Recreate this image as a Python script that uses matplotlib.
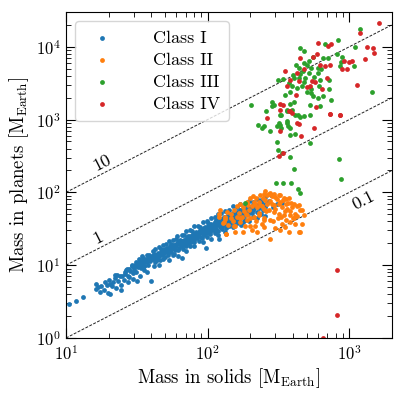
import matplotlib
matplotlib.use("Agg")
import matplotlib.pyplot as plt
import numpy as np

# ---------------- data ----------------
class1_x = [10.5, 11.8, 13.2, 16.2, 16.4, 16.8, 17.3, 17.8, 18.4, 18.9, 19.5, 19.9, 20.4, 21.0, 21.6,
            22.3, 22.9, 23.4, 24.4, 24.8, 25.5, 25.9, 26.5, 27.2, 27.8, 28.4, 29.0, 29.5, 30.2, 30.8,
            31.3, 31.7, 32.2, 32.8, 33.4, 33.9, 34.5, 35.0, 35.6, 36.2, 36.8, 37.4, 38.0, 38.6, 39.3,
            39.7, 40.3, 41.0, 41.7, 42.4, 43.1, 43.8, 44.5, 45.2, 46.0, 46.7, 47.5, 48.3, 49.1, 50.0,
            50.8, 51.7, 52.6, 53.5, 54.4, 55.3, 56.3, 57.3, 58.2, 59.2, 60.2, 61.3, 62.3, 63.4, 64.5,
            65.6, 66.7, 66.0, 67.9, 69.0, 70.2, 71.4, 72.6, 73.9, 75.1, 76.4, 77.7, 79.1, 80.4, 81.8,
            83.2, 84.7, 86.1, 87.6, 89.1, 90.7, 92.2, 93.8, 95.4, 97.1, 98.0, 98.7, 100.4, 102.2, 104.0,
            105.8, 107.6, 109.5, 111.4, 113.3, 115.3, 117.3, 119.3, 120.0, 121.4, 123.5, 125.6, 127.8, 130.0,
            132.3, 134.6, 136.9, 139.3, 141.7, 144.2, 146.7, 149.2, 151.8, 154.4, 157.1, 159.8, 162.6, 165.4,
            168.3, 171.2, 174.2, 177.2, 180.3, 183.4, 186.6, 189.9, 193.2, 196.5, 200.0, 205.0, 210.0, 216.0,
            222.0, 229.0, 236.0, 244.0, 252.0, 262.0, 281.0, 335.0,
            26.0, 28.0, 30.0, 32.0, 34.0, 36.0, 38.0, 40.0, 42.0, 44.0, 46.0, 48.0, 50.0, 52.0, 54.0,
            56.0, 58.0, 60.0, 62.0, 64.0, 66.0, 68.0, 70.0, 72.0, 74.0, 76.0, 78.0, 80.0, 82.0, 84.0,
            86.0, 88.0, 90.0, 92.0, 94.0, 96.0, 98.0, 100.0, 103.0, 106.0, 109.0, 112.0, 115.0, 118.0,
            121.0, 124.0, 127.0, 130.0, 133.0, 136.0, 140.0, 144.0, 148.0, 152.0, 156.0, 160.0, 165.0,
            170.0, 175.0, 180.0, 186.0, 192.0, 198.0, 205.0, 212.0, 220.0, 230.0, 240.0, 255.0, 270.0,
            290.0, 310.0,
            20, 22, 24, 27, 29, 33, 35, 37, 41, 45, 48, 53, 57, 61, 66, 70, 75, 80, 86, 92, 99, 105,
            112, 118, 125, 133, 141, 150, 160, 170, 182, 195, 208, 222, 238, 255,
            20.5, 22.5, 24.5, 27.5, 29.5, 33.5, 35.5, 37.5, 41.5, 45.5, 48.5, 53.5, 57.5, 61.5, 66.5,
            70.5, 75.5, 80.5, 86.5, 92.5, 99.5, 105.5, 112.5, 118.5, 125.5, 133.5, 141.5, 150.5, 160.5,
            170.5, 182.5, 195.5, 208.5, 222.5, 238.5, 255.5,
            31, 34.5, 38.5, 42.5, 47, 51, 55.5, 59.5, 64, 68.5, 73, 78, 83, 88.5, 94.5, 101, 108, 115,
            122.5, 131, 140, 150, 161, 173,
            32, 35.5, 39.7, 43.8, 48.4, 52.5, 57, 61.3, 66, 70.5, 75.2, 80.3, 85.5, 91, 97.3, 104, 111,
            118.5, 126, 135, 144, 154.5, 166, 178]
class1_y = [2.9, 3.2, 3.6, 5.5, 4.7, 5.0, 4.3, 5.1, 4.6, 5.9, 5.3, 4.1, 5.6, 5.1, 5.8,
            6.6, 7.4, 6.1, 5.4, 7.0, 6.3, 7.6, 8.7, 7.2, 6.9, 8.3, 9.8, 7.8, 9.1, 10.2,
            8.1, 6.0, 9.5, 10.8, 11.0, 9.2, 10.4, 11.6, 9.6, 10.9, 12.2, 11.1, 10.1, 12.5, 11.4,
            6.0, 13.2, 12.1, 14.4, 11.2, 13.6, 12.6, 14.8, 13.3, 11.9, 15.2, 13.9, 16.4, 14.5, 12.8,
            15.9, 17.3, 14.6, 16.5, 18.2, 15.4, 17.1, 13.8, 19.2, 16.2, 18.3, 20.1, 17.0, 19.3, 21.6,
            18.1, 20.4, 12.5, 22.3, 18.9, 21.4, 23.6, 20.0, 22.4, 25.1, 21.1, 23.6, 26.4, 22.0, 24.9,
            27.8, 23.3, 26.1, 29.2, 24.6, 27.5, 30.8, 25.9, 28.9, 32.5, 17.4, 27.4, 30.6, 34.1, 28.6,
            32.0, 36.0, 30.2, 33.8, 37.9, 31.9, 35.7, 40.0, 23.0, 33.5, 37.4, 42.1, 35.2, 39.3,
            44.2, 36.8, 41.1, 46.3, 38.5, 43.0, 48.4, 40.1, 45.0, 50.6, 42.0, 47.0, 52.9, 44.0,
            49.1, 55.0, 46.0, 51.3, 57.5, 48.2, 53.5, 60.0, 50.3, 55.8, 62.5, 52.0, 58.0, 65.0,
            54.0, 60.5, 68.0, 56.5, 63.0, 71.0, 92.0, 72.0,
            8.0, 9.0, 8.6, 10.0, 10.0, 11.5, 11.8, 12.0, 13.0, 14.0, 14.2, 15.0, 16.8, 16.0, 17.0,
            18.8, 17.5, 19.5, 21.0, 19.8, 21.2, 20.0, 23.0, 22.0, 24.0, 23.5, 25.0, 26.5, 25.5, 28.0,
            27.0, 30.0, 29.0, 31.5, 29.5, 33.0, 31.0, 35.0, 32.0, 37.0, 34.0, 39.0, 36.0, 41.0,
            38.0, 43.0, 40.0, 45.0, 42.0, 47.5, 44.0, 49.0, 46.0, 52.0, 48.0, 54.0, 50.0,
            57.0, 53.0, 59.0, 56.0, 62.0, 58.0, 65.0, 61.0, 68.0, 64.0, 72.0, 67.0, 75.0,
            62.0, 70.0,
            6.3, 7.4, 7.0, 9.0, 10.2, 12.0, 12.6, 14.0, 15.6, 18.0, 19.0, 21.5, 22.0, 25.5, 26.0,
            29.5, 30.0, 34.0, 35.0, 39.5, 40.0, 45.0, 45.5, 50.0, 52.0, 55.0, 58.0, 64.0, 62.0,
            70.0, 68.0, 76.0, 74.0, 82.0, 78.0, 86.0,
            4.0, 4.9, 4.5, 5.9, 6.4, 7.2, 8.6, 8.0, 9.8, 10.2, 12.0, 11.8, 14.2, 13.5, 16.5, 15.8,
            18.5, 18.2, 21.5, 20.5, 24.5, 23.0, 27.5, 26.0, 31.0, 29.0, 34.0, 33.0, 37.5, 36.0,
            42.0, 40.0, 46.0, 44.0, 50.0, 48.0,
            11.0, 13.4, 13.6, 16.6, 16.5, 19.8, 19.4, 22.9, 22.0, 26.2, 25.0, 29.6, 28.3, 33.3, 32.0,
            37.7, 35.8, 41.6, 39.3, 45.8, 43.5, 50.7, 48.2, 56.5,
            9.8, 9.6, 12.0, 11.8, 14.5, 14.0, 17.0, 16.2, 19.5, 18.5, 22.0, 21.0, 25.0, 23.6, 28.2,
            26.6, 31.6, 29.5, 34.5, 32.3, 38.2, 35.7, 42.3, 39.8]

class2_x = [233, 248, 262, 284, 296, 221, 200, 190, 211, 229, 255, 277, 308, 326, 348, 367, 335, 363,
            394, 428, 442, 451, 416, 384, 344, 317, 292, 270, 248, 235, 223, 206, 192, 179, 170, 161,
            153, 145, 133, 137, 175, 190, 211, 229, 248, 277, 312, 335, 384, 416, 463, 439, 373, 326,
            300, 274, 242, 217, 200, 184, 168, 157, 153, 135, 157, 179, 223, 190, 262, 292, 317, 355,
            373, 326, 274, 255, 123, 120, 130, 145, 161, 166, 404, 476, 463, 446, 120, 133, 135,
            210, 245, 270, 300, 320, 340, 360, 390, 410, 285, 240, 215, 195, 180, 230, 260, 300, 350,
            380, 430, 400, 360, 330, 290, 250, 220, 200, 185, 170, 150, 140, 128, 205, 250, 350]
class2_y = [92, 95, 92, 89, 95, 85, 83, 74, 74, 74, 78, 77, 80, 74, 85, 72, 63, 60,
            63, 65, 67, 57, 51, 49, 49, 51, 54, 57, 60, 67, 62, 65, 67, 63, 70, 65,
            58, 51, 46, 54, 46, 49, 46, 49, 44, 42, 44, 37, 39, 37, 37, 29, 28.7, 30,
            32, 23, 37, 35, 34, 35, 39, 28.7, 35, 26.6, 34, 28.7, 28.7, 42, 70, 67, 69, 70,
            83, 92, 97, 105, 57, 46, 39, 44, 46, 52, 44, 49, 58, 29, 50, 42.5, 27,
            88, 85, 95, 86, 92, 78, 80, 72, 70, 70, 64, 69, 58, 55, 52, 55, 60, 55,
            56, 48, 44, 42, 46, 40, 42, 40, 44, 50, 45, 40, 36, 38, 30, 33, 33]

class3_x = [1183, 836, 1102, 678, 451, 481, 555, 652, 703, 818, 887, 873, 1084, 863, 476, 502, 536,
            597, 634, 516, 439, 446, 400, 409, 439, 373, 340, 314, 489, 624, 714, 463, 394, 714, 384,
            353, 536, 555, 652, 743, 597, 530, 624, 284, 384, 404, 292, 363, 394, 476, 525, 432, 1445,
            203, 258, 284, 317, 363, 322, 330, 363, 416, 446, 225, 248, 242, 274, 308, 322, 330, 363,
            369, 379, 379, 416, 525, 308, 312, 336, 384, 404, 849, 879, 305, 340, 390, 432, 446, 182,
            420, 470, 520, 560, 600, 480, 540, 430, 610, 500]
class3_y = [17300, 12500, 9890, 11000, 9490, 8710, 7200, 7050, 7050, 7830, 7200, 6210, 5410, 5410,
            6010, 5700, 5130, 5130, 4870, 4380, 5130, 4240, 4070, 3730, 3730, 3190, 3660, 3540, 3730,
            3540, 3540, 2870, 2870, 2660, 2390, 2200, 2320, 2090, 2090, 1880, 1980, 1600, 1520, 1740,
            1640, 1740, 1570, 1370, 1370, 1105, 1140, 1170, 2370, 1600, 1300, 1520, 895, 944, 1170,
            1140, 1300, 1170, 1080, 849, 822, 763, 687, 805, 849, 763, 895, 822, 763, 618, 638, 474,
            490, 376, 345, 304, 208, 285, 153, 136, 136, 133, 111, 97, 72,
            5600, 4600, 6400, 3900, 4300, 3300, 2600, 2700, 2900, 2400]

class4_x = [1630, 818, 818, 652, 726, 855, 560, 458, 1130, 1300, 1333, 1470, 1490, 1197, 597, 703, 743,
            591, 555, 451, 912, 989, 1044, 964, 887, 624, 678, 726, 476, 428, 350, 439, 379, 545, 575,
            695, 525, 502, 363, 641, 423, 585, 326, 340, 322, 373, 262, 428, 322, 439, 379, 394, 726,
            855, 317, 340]
class4_y = [21400, 2.08, 8.7, 1.0, 1180, 1140, 763, 586, 2960, 6690, 9890, 9690, 8260, 15600, 11200,
            10200, 10800, 7830, 7200, 7050, 6340, 6210, 6470, 4870, 4870, 5700, 5410, 5700, 4870, 4380,
            4620, 3360, 3540, 3430, 3260, 3730, 2870, 2800, 2870, 2660, 2200, 1470, 1640, 1600, 1370,
            1300, 1050, 895, 687, 877, 1300, 1230, 1200, 1170, 317, 352]

labels = ["Class I", "Class II", "Class III", "Class IV"]
ratios = [10, 1, 0.1]
ratio_labels = ["10", "1", "0.1"]
ratio_label_pos = [(18, 254), (16.8, 24), (1262, 78)]

# ---------------- style ----------------
plt.rcParams['font.family'] = 'serif'
plt.rcParams['font.serif'] = ['cmr10']
plt.rcParams['mathtext.fontset'] = 'cm'
plt.rcParams['axes.formatter.use_mathtext'] = True

fig = plt.figure(figsize=(4.11, 3.94), dpi=100)
ax = fig.add_axes([66/411, 1-338/394, (392-66)/411, (338-12)/394])

xlim = (10, 2000)
ylim = (1, 3e4)
xx = np.array(xlim, dtype=float)
for r in ratios:
    ax.plot(xx, r*xx, ls='--', color='#222222', lw=0.7, dashes=(3, 1.5), zorder=1)
for txt, (px, py) in zip(ratio_labels, ratio_label_pos):
    ax.text(px, py, txt, rotation=27, ha='center', va='center', fontsize=13,
            rotation_mode='anchor')

cols = ['C0', 'C1', 'C2', 'C3']
for xs, ys, lab, c in zip([class1_x, class2_x, class3_x, class4_x],
                          [class1_y, class2_y, class3_y, class4_y], labels, cols):
    ax.scatter(xs, ys, s=12, color=c, linewidths=0, label=lab, zorder=2)

ax.set_xscale('log')
ax.set_yscale('log')
ax.set_xlim(*xlim)
ax.set_ylim(*ylim)
ax.set_xlabel(r"Mass in solids $[\mathrm{M_{Earth}}]$", fontsize=13.5, labelpad=2)
ax.set_ylabel(r"Mass in planets $[\mathrm{M_{Earth}}]$", fontsize=13.5, labelpad=3)
ax.tick_params(which='both', direction='in', top=True, right=True, labelsize=12)
ax.tick_params(axis='x', which='major', pad=4.5)
ax.tick_params(axis='y', which='major', pad=4)
ax.tick_params(which='major', length=7, width=0.8)
ax.tick_params(which='minor', length=3.5, width=0.6)

leg = ax.legend(loc='upper left', fontsize=13, handletextpad=1.8, borderpad=0.5,
                labelspacing=0.35, markerscale=1.0, handlelength=2.0)

fig.savefig("out.png", dpi=100)
